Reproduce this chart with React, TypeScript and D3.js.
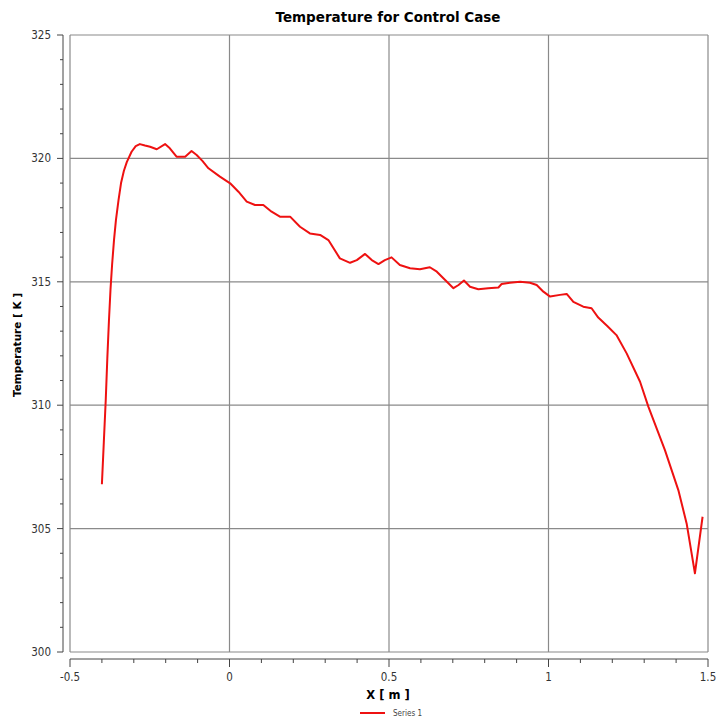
import React from "react";
import * as d3 from "d3";

const xValues = [
  -0.4, -0.394, -0.388, -0.383, -0.378, -0.373, -0.368, -0.362, -0.356, -0.348, -0.34, -0.331, -0.322,
  -0.307, -0.294, -0.281, -0.265, -0.249, -0.228,
  -0.202, -0.187, -0.166, -0.139, -0.119, -0.103, -0.085, -0.066, -0.03, 0.002, 0.028, 0.054, 0.08,
  0.106, 0.132, 0.158, 0.19, 0.221, 0.252, 0.284, 0.31, 0.346, 0.378, 0.399, 0.425, 0.446,
  0.467, 0.487, 0.508, 0.534, 0.566, 0.597, 0.628, 0.65, 0.676, 0.702, 0.718, 0.735, 0.754,
  0.78, 0.811, 0.843, 0.853, 0.879, 0.911, 0.942, 0.963, 0.984, 1.005, 1.036, 1.057, 1.078,
  1.109, 1.135, 1.156, 1.185, 1.213, 1.245, 1.287, 1.313, 1.365, 1.407, 1.433, 1.459, 1.483,
];
const temperatures = [
  306.8, 308.5, 310.2, 311.9, 313.4, 314.7, 315.7, 316.7, 317.5, 318.3, 319.0, 319.5, 319.85,
  320.27, 320.5, 320.58, 320.52, 320.47, 320.37,
  320.58, 320.41, 320.07, 320.07, 320.3, 320.14, 319.9, 319.6, 319.26, 318.99, 318.65, 318.25, 318.11,
  318.11, 317.84, 317.64, 317.64, 317.23, 316.96, 316.9, 316.69, 315.95, 315.77, 315.88, 316.13, 315.88,
  315.72, 315.88, 315.99, 315.68, 315.55, 315.51, 315.59, 315.41, 315.07, 314.74, 314.87, 315.05, 314.8,
  314.7, 314.74, 314.77, 314.91, 314.96, 315.0, 314.96, 314.87, 314.6, 314.4, 314.47, 314.51, 314.19,
  313.99, 313.93, 313.55, 313.2, 312.84, 312.1, 310.95, 309.94, 308.18, 306.56, 305.21, 303.19, 305.48,
];
const xTicks = [-0.5, 0, 0.5, 1, 1.5];
const xTickLabels = ["-0.5", "0", "0.5", "1", "1.5"];
const yTicks = [300, 305, 310, 315, 320, 325];
const yTickLabels = ["300", "305", "310", "315", "320", "325"];
const title = "Temperature for Control Case";
const xTitle = "X [ m ]";
const yTitle = "Temperature [ K ]";
const seriesName = "Series 1";

export default function App() {
  const W = 718, H = 725;
  const left = 70, right = 708, top = 35, bottom = 652;
  const x = d3.scaleLinear().domain([-0.5, 1.5]).range([left, right]);
  const y = d3.scaleLinear().domain([300, 325]).range([bottom, top]);
  const data = xValues.map((v, i) => [v, temperatures[i]] as [number, number]);
  const line = d3.line<[number, number]>().x(d => x(d[0])).y(d => y(d[1])).curve(d3.curveLinear);
  const yAxisX = 63;
  const xAxisY = 659;
  const xMinor = d3.range(-0.5, 1.5001, 0.1).map(v => Math.round(v * 10) / 10);
  const yMinor = d3.range(300, 325.001, 1);
  const font = "'DejaVu Sans Condensed', 'DejaVu Sans', sans-serif";
  const grid = "#8a8a8a";
  return (
    <svg width={W} height={H} style={{ position: "absolute", left: 0, top: 0, background: "#fff" }}>
      <text x={388} y={22} textAnchor="middle" fontFamily="'DejaVu Sans', sans-serif" fontWeight="bold" fontSize={13.5}>{title}</text>
      {xTicks.map(t => (
        <line key={"gx" + t} x1={x(t)} x2={x(t)} y1={top} y2={bottom} stroke={grid} strokeWidth={1.2} />
      ))}
      {yTicks.map(t => (
        <line key={"gy" + t} x1={left} x2={right} y1={y(t)} y2={y(t)} stroke={grid} strokeWidth={1.2} />
      ))}
      {/* y axis */}
      <line x1={yAxisX} x2={yAxisX} y1={top} y2={bottom} stroke="#444" strokeWidth={1} />
      {yMinor.map(t => {
        const major = yTicks.includes(t);
        return <line key={"ty" + t} x1={yAxisX - (major ? 6 : 3)} x2={yAxisX} y1={y(t)} y2={y(t)} stroke="#444" strokeWidth={1} />;
      })}
      {yTicks.map((t, i) => (
        <text key={"ly" + t} x={51} y={y(t)} dy="0.35em" textAnchor="end" fontFamily={font} fontSize={11.5} fill="#333">{yTickLabels[i]}</text>
      ))}
      {/* x axis */}
      <line x1={left} x2={right} y1={xAxisY} y2={xAxisY} stroke="#444" strokeWidth={1} />
      {xMinor.map(t => {
        const major = xTicks.includes(t);
        return <line key={"tx" + t} x1={x(t)} x2={x(t)} y1={xAxisY} y2={xAxisY + (major ? 8 : 4)} stroke="#444" strokeWidth={1} />;
      })}
      {xTicks.map((t, i) => (
        <text key={"lx" + t} x={x(t)} y={681} textAnchor="middle" fontFamily={font} fontSize={11.5} fill="#333">{xTickLabels[i]}</text>
      ))}
      <text x={388} y={699} textAnchor="middle" fontFamily="'DejaVu Sans', sans-serif" fontWeight="bold" fontSize={11.5}>{xTitle}</text>
      <text transform={`translate(21,345) rotate(-90)`} textAnchor="middle" fontFamily="'DejaVu Sans', sans-serif" fontWeight="bold" fontSize={10.5}>{yTitle}</text>
      <path d={line(data) || ""} fill="none" stroke="#ee1111" strokeWidth={2} strokeLinejoin="round" />
      <line x1={360} x2={385} y1={713} y2={713} stroke="#ee1111" strokeWidth={2} />
      <text x={393} y={716} fontFamily={font} fontSize={8} fill="#444">{seriesName}</text>
    </svg>
  );
}
